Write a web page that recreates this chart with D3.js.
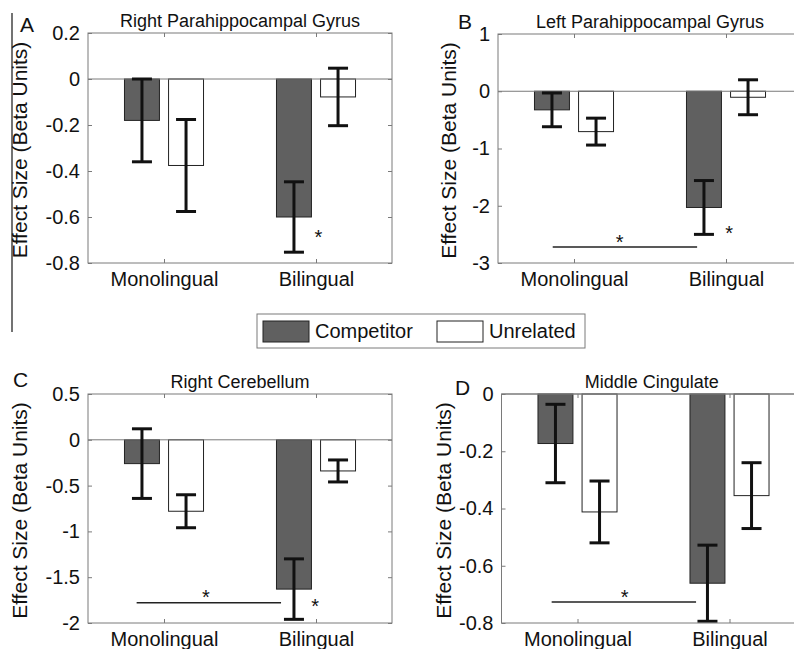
<!DOCTYPE html>
<html>
<head>
<meta charset="utf-8">
<script src="https://cdn.jsdelivr.net/npm/d3@7"></script>
<style>
  body { margin: 0; background: #fff; }
  text { font-family: "Liberation Sans", Arial, Helvetica, sans-serif; fill: #111; }
</style>
</head>
<body>
<script>
// groups / conditions
var groups = ["Monolingual", "Bilingual"];
var conditions = ["Competitor", "Unrelated"];

var panelLetters = ["A", "B", "C", "D"];
var panelTitles = ["Right Parahippocampal Gyrus", "Left Parahippocampal Gyrus", "Right Cerebellum", "Middle Cingulate"];
var yDomains = [[-0.8, 0.2], [-3, 1], [-2, 0.5], [-0.8, 0]];
var yTicks = [
  [0.2, 0, -0.2, -0.4, -0.6, -0.8],
  [1, 0, -1, -2, -3],
  [0.5, 0, -0.5, -1, -1.5, -2],
  [0, -0.2, -0.4, -0.6, -0.8]
];

// [Monolingual, Bilingual] for each panel
var competitorMeans = [[-0.18, -0.60], [-0.325, -2.03], [-0.26, -1.63], [-0.173, -0.661]];
var competitorErr   = [[0.18, 0.153], [0.295, 0.47], [0.38, 0.33], [0.137, 0.133]];
var unrelatedMeans  = [[-0.376, -0.078], [-0.705, -0.105], [-0.78, -0.34], [-0.412, -0.355]];
var unrelatedErr    = [[0.20, 0.125], [0.235, 0.305], [0.18, 0.12], [0.108, 0.115]];

// significance annotations (data units): group star next to bilingual competitor, and bracket line
var groupStars = [[2.015, -0.668], [2.02, -2.41], [1.995, -1.774], null];
var sigLines = [null, [0.86, 1.81, -2.72], [0.82, 1.77, -1.78], [0.83, 1.78, -0.727]];
var sigLineStars = [null, [1.30, -2.565], [1.276, -1.675], [1.31, -0.696]];

// layout
var frames = [
  {left: 88, right: 392, top: 33, bottom: 263, letterX: 20, letterY: 32, labelX: 27},
  {left: 498, right: 802, top: 34, bottom: 263, letterX: 458, letterY: 29, labelX: 456},
  {left: 88, right: 392, top: 394, bottom: 623, letterX: 13, letterY: 387, labelX: 27},
  {left: 501.5, right: 805.5, top: 394, bottom: 623, letterX: 455, letterY: 395, labelX: 451}
];

var barW = 0.23, barOff = 0.145;
var compColor = "#606060", frameColor = "#7a7a7a";

var svg = d3.select("body").append("svg")
    .attr("width", 794)
    .attr("height", 649);

// left border line from the original page
svg.append("line")
    .attr("x1", 12).attr("x2", 12)
    .attr("y1", 13).attr("y2", 332)
    .attr("stroke", "#444").attr("stroke-width", 1.5);

frames.forEach(function(f, i) {
    var x = d3.scaleLinear().domain([0.5, 2.5]).range([f.left, f.right]);
    var y = d3.scaleLinear().domain(yDomains[i]).range([f.bottom, f.top]);
    var g = svg.append("g");

    // bars
    var rows = [];
    groups.forEach(function(grp, j) {
        rows.push({pos: j + 1 - barOff, v: competitorMeans[i][j], e: competitorErr[i][j], fill: compColor});
        rows.push({pos: j + 1 + barOff, v: unrelatedMeans[i][j], e: unrelatedErr[i][j], fill: "#fff"});
    });

    g.selectAll("rect.bar").data(rows).enter().append("rect")
        .attr("class", "bar")
        .attr("x", function(d) { return x(d.pos - barW / 2); })
        .attr("width", function(d) { return x(d.pos + barW / 2) - x(d.pos - barW / 2); })
        .attr("y", function(d) { return y(Math.max(0, d.v)); })
        .attr("height", function(d) { return Math.abs(y(d.v) - y(0)); })
        .attr("fill", function(d) { return d.fill; })
        .attr("stroke", "#222")
        .attr("stroke-width", 1);

    // zero line
    g.append("line")
        .attr("x1", f.left).attr("x2", f.right)
        .attr("y1", y(0)).attr("y2", y(0))
        .attr("stroke", frameColor).attr("stroke-width", 1);

    // error bars
    var capHalf = 10;
    var eb = g.selectAll("g.err").data(rows).enter().append("g").attr("class", "err")
        .attr("stroke", "#111").attr("stroke-width", 3);
    eb.append("line")
        .attr("x1", function(d) { return x(d.pos); }).attr("x2", function(d) { return x(d.pos); })
        .attr("y1", function(d) { return y(d.v + d.e); })
        .attr("y2", function(d) { return y(d.v - d.e); });
    eb.append("line")
        .attr("x1", function(d) { return x(d.pos) - capHalf; }).attr("x2", function(d) { return x(d.pos) + capHalf; })
        .attr("y1", function(d) { return y(d.v + d.e); }).attr("y2", function(d) { return y(d.v + d.e); });
    eb.append("line")
        .attr("x1", function(d) { return x(d.pos) - capHalf; }).attr("x2", function(d) { return x(d.pos) + capHalf; })
        .attr("y1", function(d) { return y(d.v - d.e); }).attr("y2", function(d) { return y(d.v - d.e); });

    // axes (ticks inside)
    var fmt = function(d) { return String(d); };
    var yAxis = g.append("g")
        .attr("transform", "translate(" + f.left + ",0)")
        .call(d3.axisLeft(y).tickValues(yTicks[i]).tickFormat(fmt).tickSizeInner(-4).tickSizeOuter(0).tickPadding(8));
    g.append("g")
        .attr("transform", "translate(" + f.right + ",0)")
        .call(d3.axisRight(y).tickValues(yTicks[i]).tickFormat("").tickSizeInner(-4).tickSizeOuter(0));
    var xAxis = g.append("g")
        .attr("transform", "translate(0," + f.bottom + ")")
        .call(d3.axisBottom(x).tickValues([1, 2]).tickFormat(function(d) { return groups[d - 1]; }).tickSizeInner(-4).tickSizeOuter(0));
    g.append("g")
        .attr("transform", "translate(0," + f.top + ")")
        .call(d3.axisTop(x).tickValues([1, 2]).tickFormat("").tickSizeInner(-4).tickSizeOuter(0));

    g.selectAll(".domain").remove();
    g.selectAll(".tick line").attr("stroke", frameColor);
    yAxis.selectAll("text").attr("font-size", 20).attr("fill", "#111");
    xAxis.selectAll("text").attr("font-size", 20).attr("fill", "#111").attr("y", 23).attr("dy", null);

    // frame
    g.append("rect")
        .attr("x", f.left).attr("y", f.top)
        .attr("width", f.right - f.left).attr("height", f.bottom - f.top)
        .attr("fill", "none").attr("stroke", frameColor).attr("stroke-width", 1);

    // significance
    if (sigLines[i]) {
        var s = sigLines[i];
        g.append("line")
            .attr("x1", x(s[0])).attr("x2", x(s[1]))
            .attr("y1", y(s[2])).attr("y2", y(s[2]))
            .attr("stroke", "#222").attr("stroke-width", 1.5);
        g.append("text")
            .attr("x", x(sigLineStars[i][0])).attr("y", y(sigLineStars[i][1]) + 11)
            .attr("text-anchor", "middle").attr("font-size", 20).text("*");
    }
    if (groupStars[i]) {
        g.append("text")
            .attr("x", x(groupStars[i][0])).attr("y", y(groupStars[i][1]) + 11)
            .attr("text-anchor", "middle").attr("font-size", 20).text("*");
    }

    // title, letter, y label
    g.append("text")
        .attr("x", (f.left + Math.min(f.right, 802)) / 2).attr("y", f.top - 6)
        .attr("text-anchor", "middle").attr("font-size", 18).text(panelTitles[i]);
    g.append("text")
        .attr("x", f.letterX).attr("y", f.letterY)
        .attr("font-size", 21).text(panelLetters[i]);
    g.append("text")
        .attr("transform", "translate(" + f.labelX + "," + ((f.top + f.bottom) / 2 + 2) + ") rotate(-90)")
        .attr("text-anchor", "middle").attr("font-size", 21).text("Effect Size (Beta Units)");
});

// legend
var legend = svg.append("g");
legend.append("rect")
    .attr("x", 257).attr("y", 314).attr("width", 328).attr("height", 34)
    .attr("fill", "#fff").attr("stroke", frameColor).attr("stroke-width", 1);
var legendX = [263, 437];
var legendFill = [compColor, "#fff"];
conditions.forEach(function(c, k) {
    legend.append("rect")
        .attr("x", legendX[k]).attr("y", 321).attr("width", 46).attr("height", 21)
        .attr("fill", legendFill[k]).attr("stroke", "#222").attr("stroke-width", 1);
    legend.append("text")
        .attr("x", legendX[k] + 52).attr("y", 338)
        .attr("font-size", 20).text(c);
});
</script>
</body>
</html>
